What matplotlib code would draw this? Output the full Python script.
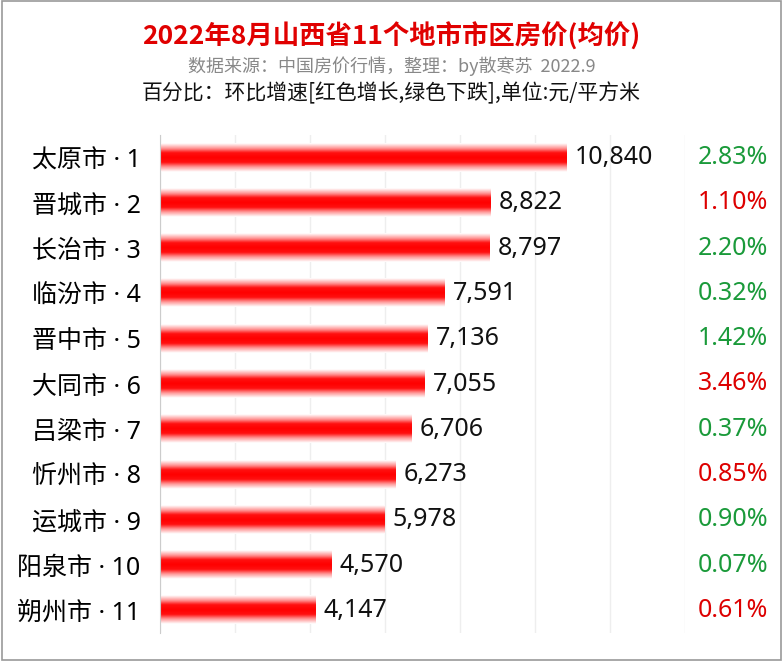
import matplotlib
matplotlib.use("Agg")
import matplotlib.pyplot as plt
import numpy as np
from matplotlib.colors import LinearSegmentedColormap
from matplotlib.patches import Rectangle

plt.rcParams['font.family'] = ['Noto Sans CJK SC', 'DejaVu Sans']

cities = ["太原市 · 1","晋城市 · 2","长治市 · 3","临汾市 · 4","晋中市 · 5","大同市 · 6",
          "吕梁市 · 7","忻州市 · 8","运城市 · 9","阳泉市 · 10","朔州市 · 11"]
prices = [10840, 8822, 8797, 7591, 7136, 7055, 6706, 6273, 5978, 4570, 4147]
changes = ["2.83%","1.10%","2.20%","0.32%","1.42%","3.46%","0.37%","0.85%","0.90%","0.07%","0.61%"]
up = [False, True, False, False, False, True, False, True, False, False, True]

W, H = 783, 661
fig = plt.figure(figsize=(W/100, H/100), dpi=100)
fig.patch.set_facecolor('white')
fig.add_artist(Rectangle((0.002, 0.002), 0.996, 0.996, transform=fig.transFigure,
                         fill=False, edgecolor='#999999', lw=1.2))

ax = fig.add_axes([160/W, 1-633/H, 525/W, (633-135)/H])
n = len(cities)
for s in ['top','right','bottom']:
    ax.spines[s].set_visible(False)
ax.spines['left'].set_color('#cccccc')
ax.set_xticks(np.arange(0, 14001, 2000))
ax.tick_params(axis='x', length=0, labelbottom=False)
ax.grid(axis='x', color='#eeeeee', lw=1)
ax.set_axisbelow(True)
ax.set_yticks(range(n))
ax.set_yticklabels(cities, fontsize=18, family=['Noto Sans', 'Noto Sans CJK SC'])
ax.tick_params(axis='y', length=0, pad=14)

cmap = LinearSegmentedColormap.from_list('g', ['#ffffff', '#ff9a9a', '#ff1010', '#ff0000', '#ff1010', '#ff9a9a', '#ffffff'])
grad = np.linspace(0, 1, 64).reshape(-1, 1)
bh = 0.62
for i, v in enumerate(prices):
    ax.imshow(grad, cmap=cmap, aspect='auto', extent=(0, v, i+bh/2, i-bh/2), zorder=2, interpolation='bilinear')
    ax.text(v + 220, i, f"{v:,}", va='center', ha='left', fontsize=18, color='#111111',
            family='Noto Sans')
ax.set_ylim(n-0.5, -0.5)
ax.set_xlim(0, 14000)

for i, c in enumerate(changes):
    y = fig.transFigure.inverted().transform(ax.transData.transform((0, i)))[1]
    fig.text(733/W, y, c, ha='center', va='center', fontsize=18,
             color='#dd0000' if up[i] else '#1a9a3a', family='Noto Sans')

fig.text(0.5, 1-37/H, "2022年8月山西省11个地市市区房价(均价)", ha='center', va='center',
         fontsize=19, fontweight='bold', color='#e00000')
fig.text(0.5, 1-66/H, "数据来源：中国房价行情，整理：by散寒苏  2022.9", ha='center', va='center',
         fontsize=13, color='#888888')
fig.text(0.5, 1-93/H, "百分比：环比增速[红色增长,绿色下跌],单位:元/平方米", ha='center', va='center',
         fontsize=15, color='#111111')

fig.savefig("out.png", dpi=100)
